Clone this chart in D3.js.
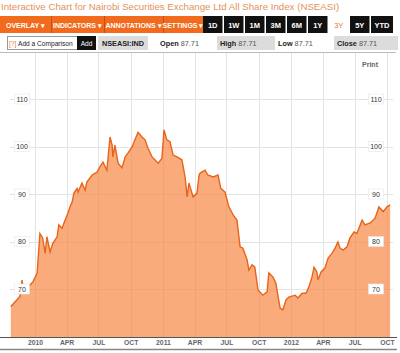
<!DOCTYPE html>
<html>
<head>
<meta charset="utf-8">
<script src="https://cdn.jsdelivr.net/npm/d3@7"></script>
<style>
  body { margin: 0; background: #fff; }
  svg { display: block; font-family: "Liberation Sans", Arial, sans-serif; }
</style>
</head>
<body>
<div id="container"></div>
<script>
// index values (NSEASI, roughly Oct 2009 - Oct 2012)
let dates = ["2009-10-24","2009-11-10","2009-11-19","2009-11-25","2009-11-29","2009-12-12","2009-12-26",
  "2010-01-07","2010-01-15","2010-01-23","2010-01-30","2010-02-04","2010-02-13","2010-02-21","2010-03-05",
  "2010-03-10","2010-03-19","2010-03-28","2010-04-05","2010-04-11","2010-04-17","2010-04-22","2010-05-01",
  "2010-05-04","2010-05-15","2010-05-24","2010-05-29","2010-06-13","2010-06-27","2010-07-05","2010-07-14",
  "2010-07-25","2010-08-03","2010-08-09","2010-08-11","2010-08-17","2010-08-26","2010-09-06","2010-09-15",
  "2010-09-23","2010-10-05","2010-10-13","2010-10-22","2010-11-02","2010-11-11","2010-11-19","2010-12-01",
  "2010-12-09","2010-12-18","2010-12-29","2011-01-04","2011-01-12","2011-01-21","2011-01-30","2011-02-10",
  "2011-02-24","2011-03-05","2011-03-11","2011-03-16","2011-03-28","2011-04-08","2011-04-14","2011-04-17",
  "2011-05-01","2011-05-09","2011-05-24","2011-06-07","2011-06-15","2011-06-27","2011-07-08","2011-07-20",
  "2011-07-31","2011-08-09","2011-08-17","2011-08-29","2011-09-03","2011-09-12","2011-09-20","2011-09-29",
  "2011-10-13","2011-10-25","2011-10-30","2011-11-11","2011-11-19","2011-12-01","2011-12-09","2011-12-18",
  "2011-12-26","2012-01-13","2012-01-21","2012-02-02","2012-02-13","2012-02-21","2012-03-01","2012-03-07",
  "2012-03-15","2012-03-18","2012-03-27","2012-04-07","2012-04-16","2012-04-27","2012-05-06","2012-05-14",
  "2012-05-20","2012-05-29","2012-06-09","2012-06-17","2012-06-29","2012-07-07","2012-07-22","2012-07-30",
  "2012-08-14","2012-08-28","2012-09-08","2012-09-20","2012-10-01","2012-10-10"];
let values = [66.3,67.7,68.4,71.9,69.8,70.4,71.5,
  73.3,81.7,80.7,77.5,81.0,77.8,79.6,81.0,
  83.5,82.8,84.5,86.0,87.3,88.3,90.2,91.2,
  90.4,92.3,90.8,92.5,94.0,94.6,95.7,96.7,
  95.0,102.0,100.3,97.8,100.3,96.5,95.5,97.8,
  98.6,99.9,101.4,103.0,102.0,101.4,99.7,97.8,
  97.2,96.5,97.5,103.5,101.4,101.0,98.2,97.8,
  97.2,93.6,89.4,92.3,89.4,90.2,94.0,94.4,
  95.0,94.0,93.6,94.0,91.2,90.4,87.3,85.6,
  84.5,78.9,78.6,76.1,74.0,75.1,74.6,69.8,
  68.7,69.4,73.4,72.5,71.2,66.0,65.6,67.7,
  68.3,68.7,68.1,69.1,69.1,70.4,72.5,74.6,
  73.6,71.9,73.6,74.4,76.5,77.5,78.6,79.9,
  78.6,78.2,78.9,80.7,82.0,81.7,84.5,83.5,
  83.9,84.9,87.3,86.3,87.3,87.71];

let yTicks = [70, 80, 90, 100, 110];
let xTickDates = ["2010-01-01","2010-04-01","2010-07-01","2010-10-01","2011-01-01","2011-04-01",
  "2011-07-01","2011-10-01","2012-01-01","2012-04-01","2012-07-01","2012-10-01"];
let xTickLabels = ["2010","APR","JUL","OCT","2011","APR","JUL","OCT","2012","APR","JUL","OCT"];

let menuButtons = ["OVERLAY","INDICATORS","ANNOTATIONS","SETTINGS"];
let rangeButtons = ["1D","1W","1M","3M","6M","1Y","3Y","5Y","YTD"];
let selectedRange = "3Y";

let w = 400;
let h = 353;
let parse = d3.timeParse("%Y-%m-%d");
let data = dates.map(function(d, i){ return {date: parse(d), value: values[i]}; });

let viz = d3.select("#container")
  .append("svg")
    .attr("width", w)
    .attr("height", h)
;

// title
viz.append("text")
  .attr("x", 1).attr("y", 10)
  .attr("font-size", 9.7)
  .attr("fill", "#e2925a")
  .text("Interactive Chart for Nairobi Securities Exchange Ltd All Share Index (NSEASI)");

// orange menu bar
let menuW = [51, 53, 59, 40];
let mx = 0;
menuButtons.forEach(function(m, i){
  viz.append("rect").attr("x", mx).attr("y", 16).attr("width", menuW[i]).attr("height", 17).attr("fill", "#f26a1b");
  if(i > 0){
    viz.append("line").attr("x1", mx + 0.5).attr("x2", mx + 0.5).attr("y1", 16).attr("y2", 33)
      .attr("stroke", "#c8500f");
  }
  viz.append("text")
    .attr("x", mx + menuW[i] / 2).attr("y", 27.5)
    .attr("text-anchor", "middle")
    .attr("font-size", 7).attr("font-weight", "bold")
    .attr("fill", "#fff")
    .text(m + " \u25BE");
  mx += menuW[i];
});

// range buttons
let bx = 203;
rangeButtons.forEach(function(r){
  let bw = r == "YTD" ? 22 : 19.5;
  let sel = r == selectedRange;
  viz.append("rect").attr("x", bx).attr("y", 16).attr("width", bw).attr("height", 17)
    .attr("fill", sel ? "#fff" : "#111");
  viz.append("text")
    .attr("x", bx + bw / 2).attr("y", 27.5)
    .attr("text-anchor", "middle")
    .attr("font-size", 7.5).attr("font-weight", sel ? "normal" : "bold")
    .attr("fill", sel ? "#e07a35" : "#fff")
    .text(r);
  bx += bw + 1.5;
});

// second row: comparison box + quote
viz.append("rect").attr("x", 7.5).attr("y", 36.5).attr("width", 70).attr("height", 13)
  .attr("fill", "#fff").attr("stroke", "#999");
viz.append("text").attr("x", 9).attr("y", 46).attr("font-size", 6.6).attr("fill", "#e07a35").text("[?]");
viz.append("text").attr("x", 18).attr("y", 46).attr("font-size", 6.6).attr("fill", "#222").text("Add a Comparison");
viz.append("rect").attr("x", 77).attr("y", 36).attr("width", 19).attr("height", 14).attr("fill", "#111");
viz.append("text").attr("x", 86.5).attr("y", 46).attr("text-anchor", "middle").attr("font-size", 6.5).attr("fill", "#fff").text("Add");
viz.append("rect").attr("x", 98).attr("y", 36).attr("width", 50).attr("height", 14).attr("fill", "#dcdcdc");
viz.append("text").attr("x", 123).attr("y", 46).attr("text-anchor", "middle").attr("font-size", 7.3)
  .attr("font-weight", "bold").attr("fill", "#222").text("NSEASI:IND");

let quoteLabels = ["Open", "High", "Low", "Close"];
let quoteValues = [87.71, 87.71, 87.71, 87.71];
let quoteX = [157, 217, 275, 334];
let quoteBg = [false, true, false, true];
let quoteW = [55, 58, 55, 64];
quoteLabels.forEach(function(q, i){
  if(quoteBg[i]){
    viz.append("rect").attr("x", quoteX[i]).attr("y", 36).attr("width", quoteW[i]).attr("height", 14).attr("fill", "#dcdcdc");
  }
  let t = viz.append("text").attr("x", quoteX[i] + 3).attr("y", 46).attr("font-size", 7.3).attr("fill", "#222");
  t.append("tspan").attr("font-weight", "bold").text(q);
  t.append("tspan").attr("fill", "#555").text(" " + quoteValues[i]);
});

viz.append("line").attr("x1", 0).attr("x2", 396).attr("y1", 52.5).attr("y2", 52.5).attr("stroke", "#bbb");

// scales
let xScale = d3.scaleTime()
  .domain([parse("2010-01-01"), parse("2012-10-01")])
  .range([35, 387]);
let yScale = d3.scaleLinear().domain([70, 110]).range([289, 99]);
let baseY = 337;

let gridGroup = viz.append("g").classed("grid", true);
xTickDates.forEach(function(d){
  let x = Math.round(xScale(parse(d))) + 0.5;
  gridGroup.append("line").attr("x1", x).attr("x2", x).attr("y1", 53).attr("y2", baseY)
    .attr("stroke", "#e3e3e3");
});
yTicks.forEach(function(v){
  let y = Math.round(yScale(v)) + 0.5;
  gridGroup.append("line").attr("x1", 10).attr("x2", 393).attr("y1", y).attr("y2", y)
    .attr("stroke", "#e3e3e3");
});

// area + line
let area = d3.area()
  .x(function(d){ return xScale(d.date); })
  .y0(baseY)
  .y1(function(d){ return yScale(d.value); });
let line = d3.line()
  .x(function(d){ return xScale(d.date); })
  .y(function(d){ return yScale(d.value); });

viz.append("path").datum(data)
  .attr("d", area)
  .attr("fill", "#f78b4a")
  .attr("fill-opacity", 0.72);
viz.append("path").datum(data)
  .attr("d", line)
  .attr("fill", "none")
  .attr("stroke", "#e8641a")
  .attr("stroke-width", 1.4);

// y labels on both sides with little white boxes
[22, 376].forEach(function(lx){
  yTicks.forEach(function(v){
    let y = yScale(v);
    viz.append("rect").attr("x", lx - 7.5).attr("y", y - 5).attr("width", 15).attr("height", 10)
      .attr("fill", "#fff").attr("stroke", "#e6e6e6").attr("stroke-width", 0.6);
    viz.append("text").attr("x", lx).attr("y", y + 2.5).attr("text-anchor", "middle")
      .attr("font-size", 7).attr("fill", "#333").text(v);
  });
});

viz.append("text").attr("x", 370).attr("y", 67).attr("text-anchor", "middle")
  .attr("font-size", 7).attr("font-weight", "bold").attr("fill", "#666").text("Print");

// x axis
let xAxis = d3.axisBottom(xScale)
  .tickValues(xTickDates.map(parse))
  .tickSize(0)
  .tickFormat(function(d, i){ return xTickLabels[i]; });
let xAxisGroup = viz.append("g").classed("xAxis", true)
  .attr("transform", "translate(0," + baseY + ")")
  .call(xAxis);
xAxisGroup.select(".domain").remove();
xAxisGroup.selectAll("text").attr("font-size", 6.8).attr("font-weight", "bold")
  .attr("fill", "#666").attr("y", 3).attr("font-family", "Liberation Sans, Arial, sans-serif");
viz.append("line").attr("x1", 0).attr("x2", 397).attr("y1", baseY + 0.5).attr("y2", baseY + 0.5)
  .attr("stroke", "#555");
viz.append("line").attr("x1", 0).attr("x2", 397).attr("y1", 349.5).attr("y2", 349.5)
  .attr("stroke", "#888").attr("stroke-width", 1.5);
</script>
</body>
</html>
